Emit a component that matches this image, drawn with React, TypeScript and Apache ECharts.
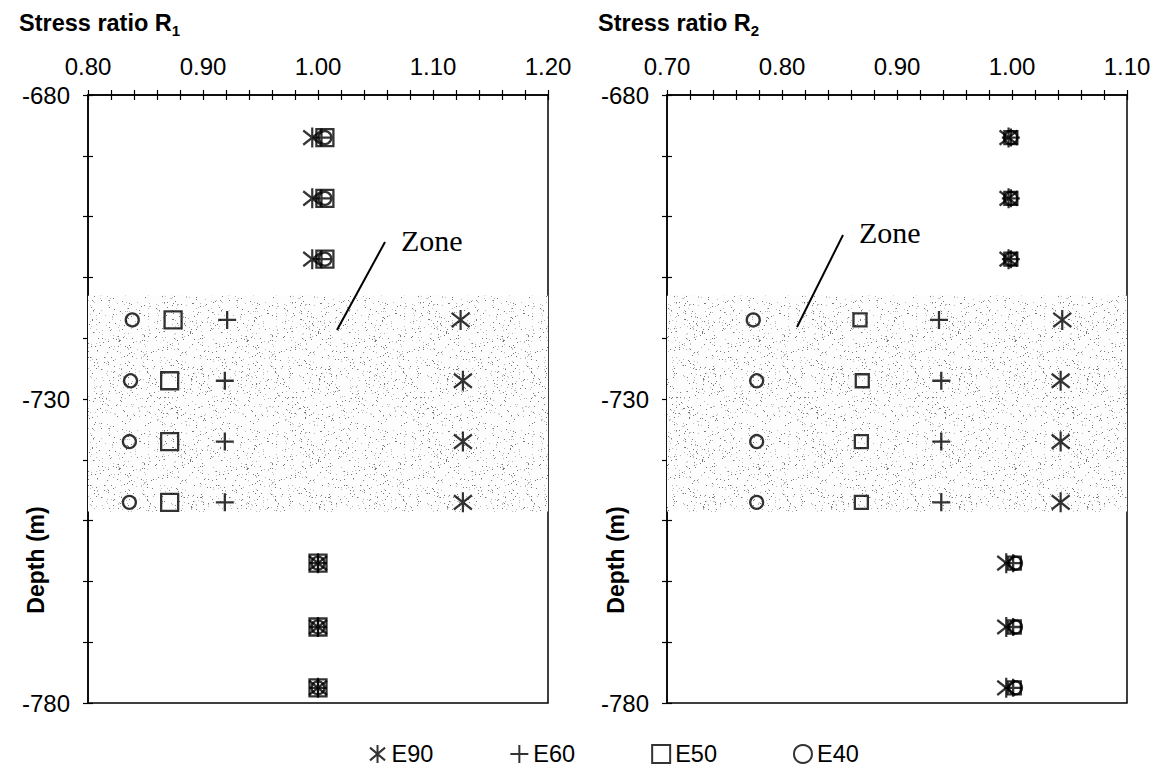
import React, { useEffect, useRef } from "react";
import * as echarts from "echarts";

// ---- data ----
const depths = [-687, -697, -707, -717, -727, -737, -747, -757, -767.5, -777.5];

const r1E90 = [0.995, 0.995, 0.995, 1.124, 1.126, 1.126, 1.126, 1.0, 1.0, 1.0];
const r1E60 = [1.003, 1.003, 1.003, 0.921, 0.919, 0.919, 0.919, 1.0, 1.0, 1.0];
const r1E50 = [1.006, 1.006, 1.006, 0.874, 0.871, 0.871, 0.871, 1.0, 1.0, 1.0];
const r1E40 = [1.006, 1.006, 1.006, 0.8385, 0.837, 0.836, 0.836, 1.0, 1.0, 1.0];

const r2E90 = [0.997, 0.997, 0.997, 1.0437, 1.0423, 1.0423, 1.0423, 0.995, 0.995, 0.995];
const r2E60 = [0.999, 0.999, 0.999, 0.9365, 0.9385, 0.9385, 0.9385, 1.001, 1.001, 1.001];
const r2E50 = [0.999, 0.999, 0.999, 0.8678, 0.8698, 0.869, 0.869, 1.002, 1.002, 1.002];
const r2E40 = [0.999, 0.999, 0.999, 0.775, 0.778, 0.778, 0.778, 1.003, 1.003, 1.003];

const seriesNames = ["E90", "E60", "E50", "E40"];
const xTicksR1 = ["0.80", "0.90", "1.00", "1.10", "1.20"];
const xTicksR2 = ["0.70", "0.80", "0.90", "1.00", "1.10"];
const yTicks = ["-680", "-730", "-780"];
const zoneRange = [-713, -748.5];

// ---- styles ----
const SANS = "'Liberation Sans', Arial, Helvetica, sans-serif";
const SERIF = "'Liberation Serif', 'Times New Roman', serif";
const ASTERISK = "path://M5,0L5,11M0.4,1.6L9.6,9.4M9.6,1.6L0.4,9.4";
const PLUS = "path://M5,0L5,10M0,5L10,5";

function makeStipple(): HTMLCanvasElement {
  const size = 128;
  const c = document.createElement("canvas");
  c.width = size;
  c.height = size;
  const ctx = c.getContext("2d")!;
  ctx.fillStyle = "#fdfdfd";
  ctx.fillRect(0, 0, size, size);
  for (let y = 0; y < size; y++) {
    for (let x = 0; x < size; x++) {
      const s = Math.sin(x * 12.9898 + y * 78.233) * 43758.5453;
      const h = s - Math.floor(s);
      if (h < 0.022) {
        ctx.fillStyle = "#777777";
        ctx.fillRect(x, y, 1, 1);
      } else if (h < 0.05) {
        ctx.fillStyle = "#bbbbbb";
        ctx.fillRect(x, y, 1, 1);
      }
    }
  }
  return c;
}

const GRID_TOP = 95;
const GRID_H = 608;
const GRID_W = 460;
const LEFT_L = 88;
const RIGHT_L = 667;

export default function App() {
  const ref = useRef<HTMLDivElement>(null);
  useEffect(() => {
    if (!ref.current) return;
    const chart = echarts.init(ref.current, null, { renderer: "svg" });
    const stipple = makeStipple();

    const mainX = (gi: number, min: number, max: number, labels: string[]) => ({
      type: "value",
      gridIndex: gi,
      position: "top",
      min,
      max,
      interval: 0.02,
      axisLine: { show: true, lineStyle: { color: "#000", width: 1.5 } },
      axisTick: { show: true, inside: true, length: 5, lineStyle: { color: "#000", width: 1.2 } },
      axisLabel: {
        show: true,
        margin: 17,
        fontSize: 24,
        color: "#000",
        fontFamily: SANS,
        showMinLabel: true,
        showMaxLabel: true,
        formatter: (v: number) => {
          const s = v.toFixed(2);
          return labels.includes(s) ? s : "";
        },
      },
      splitLine: { show: false },
    });
    const overlayX = (gi: number, min: number, max: number) => ({
      type: "value",
      gridIndex: gi,
      position: "top",
      min,
      max,
      interval: 0.02,
      axisLine: { show: false },
      axisTick: { show: true, inside: false, length: 5, lineStyle: { color: "#000", width: 1.2 } },
      axisLabel: { show: false },
      splitLine: { show: false },
    });
    const mainY = (gi: number) => ({
      type: "value",
      gridIndex: gi,
      min: -780,
      max: -680,
      interval: 10,
      axisLine: { show: true, lineStyle: { color: "#000", width: 1.5 } },
      axisTick: { show: true, inside: true, length: 5, lineStyle: { color: "#000", width: 1.2 } },
      axisLabel: {
        show: true,
        margin: 18,
        fontSize: 24,
        color: "#000",
        fontFamily: SANS,
        showMinLabel: true,
        showMaxLabel: true,
        formatter: (v: number) => {
          const s = String(Math.round(v));
          return yTicks.includes(s) ? s : "";
        },
      },
      splitLine: { show: false },
    });
    const overlayY = (gi: number) => ({
      type: "value",
      gridIndex: gi,
      min: -780,
      max: -680,
      interval: 10,
      axisLine: { show: false },
      axisTick: { show: true, inside: false, length: 5, lineStyle: { color: "#000", width: 1.2 } },
      axisLabel: { show: false },
      splitLine: { show: false },
    });

    const baseStyle = { color: "transparent", borderColor: "#000", borderWidth: 2.3 };
    const mk = (
      name: string,
      xs: number[],
      axis: number,
      symbol: string,
      size: number | number[],
      withZone: boolean
    ) => ({
      type: "scatter",
      name,
      xAxisIndex: axis,
      yAxisIndex: axis,
      symbol,
      symbolSize: size,
      itemStyle: baseStyle,
      data: xs.map((x, i) => [x, depths[i]]),
      z: 3,
      markArea: withZone
        ? {
            silent: true,
            z: 1,
            itemStyle: { color: { image: stipple, repeat: "repeat" }, borderWidth: 0 },
            data: [[{ yAxis: zoneRange[0] }, { yAxis: zoneRange[1] }]],
          }
        : undefined,
    });

    const titleRich = {
      m: { fontSize: 23.5, fontWeight: "bold", fontFamily: SANS, color: "#000", lineHeight: 30 },
      s: { fontSize: 15, fontWeight: "bold", fontFamily: SANS, color: "#000", lineHeight: 30, verticalAlign: "bottom" },
    };

    const option: any = {
      animation: false,
      backgroundColor: "#fff",
      title: [
        { text: "{m|Stress ratio R}{s|1}", left: 19, top: 8, padding: 0, textStyle: { rich: titleRich } },
        { text: "{m|Stress ratio R}{s|2}", left: 598, top: 8, padding: 0, textStyle: { rich: titleRich } },
      ],
      legend: {
        data: seriesNames,
        left: 364,
        top: 737,
        itemWidth: 18,
        itemHeight: 18,
        itemGap: 76,
        textStyle: { fontSize: 23.5, color: "#000", fontFamily: SANS },
        itemStyle: { color: "transparent", borderColor: "#000", borderWidth: 2 },
      },
      grid: [
        { left: LEFT_L, top: GRID_TOP, width: GRID_W, height: GRID_H, show: true, borderColor: "#000", borderWidth: 1.5, backgroundColor: "transparent" },
        { left: RIGHT_L, top: GRID_TOP, width: GRID_W, height: GRID_H, show: true, borderColor: "#000", borderWidth: 1.5, backgroundColor: "transparent" },
        { left: LEFT_L, top: GRID_TOP, width: GRID_W, height: GRID_H, show: false },
        { left: RIGHT_L, top: GRID_TOP, width: GRID_W, height: GRID_H, show: false },
      ],
      xAxis: [
        mainX(0, 0.8, 1.2, xTicksR1),
        mainX(1, 0.7, 1.1, xTicksR2),
        overlayX(2, 0.8, 1.2),
        overlayX(3, 0.7, 1.1),
      ],
      yAxis: [mainY(0), mainY(1), overlayY(2), overlayY(3)],
      series: [
        mk("E90", r1E90, 0, ASTERISK, [18, 20], true),
        mk("E60", r1E60, 0, PLUS, 18, false),
        mk("E50", r1E50, 0, "rect", 17, false),
        mk("E40", r1E40, 0, "circle", 13, false),
        mk("E90", r2E90, 1, ASTERISK, [18, 20], true),
        mk("E60", r2E60, 1, PLUS, 18, false),
        mk("E50", r2E50, 1, "rect", 13, false),
        mk("E40", r2E40, 1, "circle", 13, false),
      ],
      graphic: [
        {
          type: "text",
          x: 36,
          y: 560,
          rotation: Math.PI / 2,
          style: { text: "Depth (m)", fontSize: 23, fontWeight: "bold", fontFamily: SANS, fill: "#000", align: "center", verticalAlign: "middle" },
        },
        {
          type: "text",
          x: 616,
          y: 560,
          rotation: Math.PI / 2,
          style: { text: "Depth (m)", fontSize: 23, fontWeight: "bold", fontFamily: SANS, fill: "#000", align: "center", verticalAlign: "middle" },
        },
        {
          type: "text",
          x: 401,
          y: 240,
          z: 10,
          style: { text: "Zone", fontSize: 30, fontFamily: SERIF, fill: "#000", align: "left", verticalAlign: "middle" },
        },
        {
          type: "text",
          x: 859,
          y: 232,
          z: 10,
          style: { text: "Zone", fontSize: 30, fontFamily: SERIF, fill: "#000", align: "left", verticalAlign: "middle" },
        },
        { type: "line", z: 10, shape: { x1: 385, y1: 242, x2: 337, y2: 330 }, style: { stroke: "#000", lineWidth: 2 } },
        { type: "line", z: 10, shape: { x1: 843, y1: 235, x2: 797, y2: 327 }, style: { stroke: "#000", lineWidth: 2 } },
      ],
    };
    chart.setOption(option);
    return () => chart.dispose();
  }, []);
  return (
    <div
      ref={ref}
      style={{ position: "fixed", left: 0, top: 0, width: 1154, height: 769, background: "#fff" }}
    />
  );
}
